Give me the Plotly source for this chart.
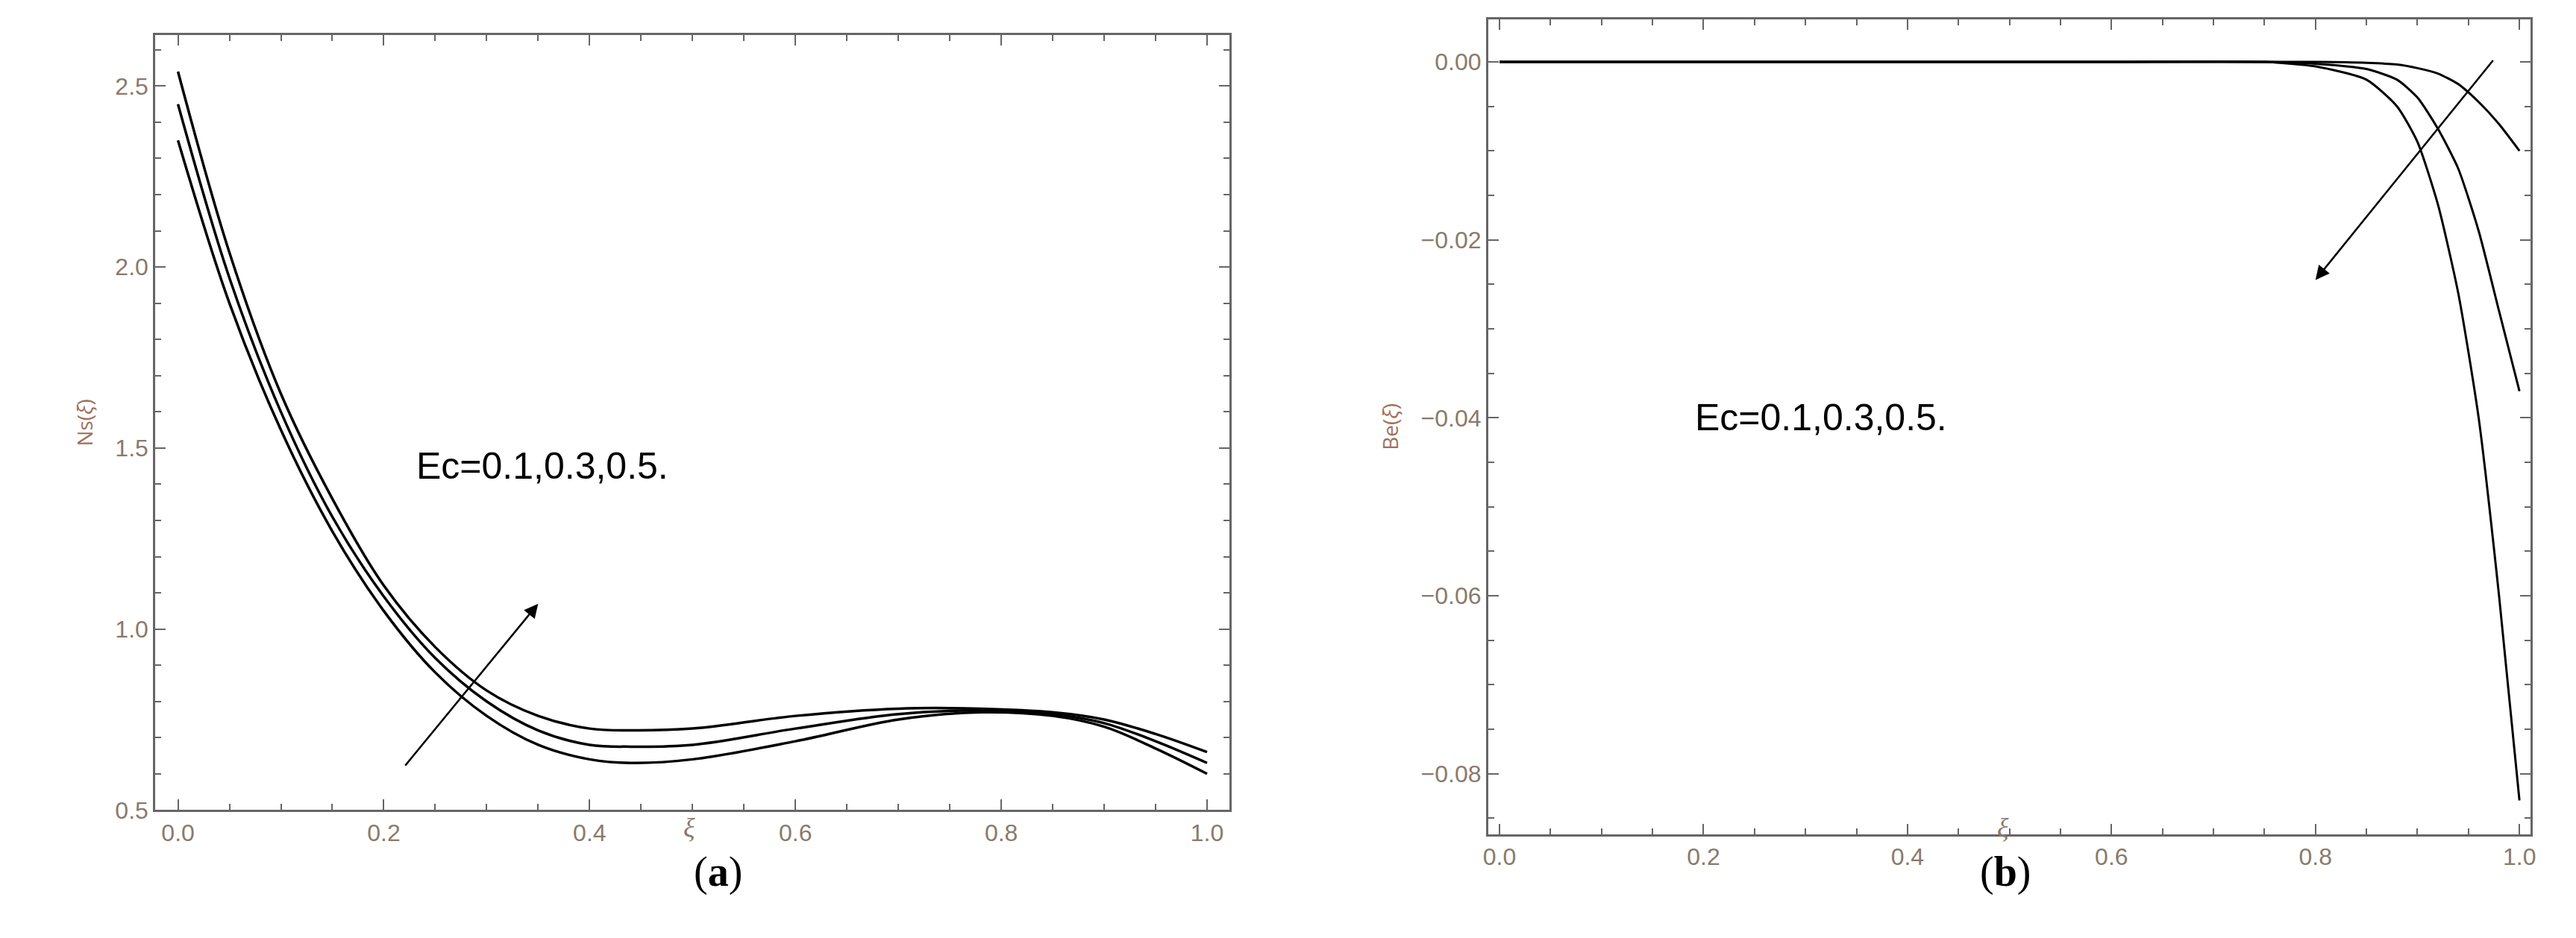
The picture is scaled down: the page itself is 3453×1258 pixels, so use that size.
import plotly.graph_objects as go
from plotly.subplots import make_subplots

xa = [0.0, 0.05, 0.1, 0.15, 0.2, 0.25, 0.3, 0.35, 0.4, 0.44, 0.5, 0.6, 0.7, 0.78, 0.85, 0.9, 0.95, 1.0]
ns1 = [2.35, 1.90, 1.55, 1.27, 1.05, 0.88, 0.76, 0.68, 0.64, 0.63, 0.64, 0.69, 0.75, 0.77, 0.76, 0.73, 0.67, 0.60]
ns2 = [2.45, 1.97, 1.60, 1.31, 1.09, 0.92, 0.80, 0.72, 0.68, 0.675, 0.68, 0.725, 0.765, 0.775, 0.765, 0.74, 0.69, 0.63]
ns3 = [2.54, 2.04, 1.65, 1.36, 1.12, 0.95, 0.83, 0.76, 0.725, 0.72, 0.725, 0.76, 0.78, 0.78, 0.77, 0.75, 0.71, 0.66]

xb = [0.0, 0.2, 0.4, 0.6, 0.75, 0.8, 0.85, 0.88, 0.9, 0.92, 0.94, 0.96, 0.98, 1.0]
be1 = [0, 0, 0, 0, 0, 0, -0.0001, -0.0003, -0.0007, -0.0013, -0.0025, -0.0045, -0.0070, -0.0100]
be2 = [0, 0, 0, 0, 0, -0.0002, -0.0008, -0.0020, -0.0040, -0.0075, -0.0120, -0.0190, -0.0280, -0.0370]
be3 = [0, 0, 0, 0, 0, -0.0005, -0.0020, -0.0050, -0.0090, -0.0160, -0.0260, -0.0400, -0.0600, -0.0830]

fig = make_subplots(rows=1, cols=2)
for y in (ns1, ns2, ns3):
    fig.add_trace(go.Scatter(x=xa, y=y, mode="lines", line=dict(color="black", width=3.5, shape="spline"), showlegend=False), 1, 1)
for y in (be1, be2, be3):
    fig.add_trace(go.Scatter(x=xb, y=y, mode="lines", line=dict(color="black", width=3, shape="spline", smoothing=0.6), showlegend=False), 1, 2)

W, H = 3453, 1258
def px(x0, x1): return [x0 / W, x1 / W]
def py(y0, y1): return [1 - y1 / H, 1 - y0 / H]

tick = dict(ticks="inside", ticklen=14, tickwidth=2, tickcolor="#666", showline=True, mirror="ticks",
            linecolor="#666", linewidth=3, showgrid=False, zeroline=False,
            tickfont=dict(family="Liberation Sans", size=32, color="#8a7a6a"))
fig.update_xaxes(**tick, domain=px(194, 1640), range=[-0.022, 1.022], tickvals=[0, .2, .4, .6, .8, 1.0],
                 ticktext=["0.0", "0.2", "0.4", "0.6", "0.8", "1.0"], minor=dict(ticks="inside", ticklen=8, dtick=0.05, tickcolor="#666"),
                 row=1, col=1)
fig.update_yaxes(**tick, domain=py(40, 1094), range=[0.5, 2.64], tickvals=[0.5, 1.0, 1.5, 2.0, 2.5],
                 ticktext=["0.5", "1.0", "1.5", "2.0", "2.5"], minor=dict(ticks="inside", ticklen=8, dtick=0.1, tickcolor="#666"),
                 title=dict(text="Ns(<i>ξ</i>)", font=dict(size=28, color="#a0705a"), standoff=22), row=1, col=1)
fig.update_xaxes(**tick, domain=px(1988, 3391), range=[-0.011, 1.011], tickvals=[0, .2, .4, .6, .8, 1.0],
                 ticktext=["0.0", "0.2", "0.4", "0.6", "0.8", "1.0"], minor=dict(ticks="inside", ticklen=8, dtick=0.05, tickcolor="#666"),
                 row=1, col=2)
fig.update_yaxes(**tick, domain=py(18, 1127), range=[-0.0868, 0.0048], tickvals=[0, -0.02, -0.04, -0.06, -0.08],
                 ticktext=["0.00", "−0.02", "−0.04", "−0.06", "−0.08"], minor=dict(ticks="inside", ticklen=8, dtick=0.005, tickcolor="#666"),
                 title=dict(text="Be(<i>ξ</i>)", font=dict(size=28, color="#a0705a"), standoff=22), row=1, col=2)

for xc in (903, 2691):
    fig.add_annotation(x=xc / W, y=1 - 1140 / H, xref="paper", yref="paper", text="<i>ξ</i>", showarrow=False,
                       font=dict(family="Liberation Serif", size=36, color="#8a7a6a"))

fig.add_annotation(x=0.23, y=1.45, xref="x", yref="y", text="Ec=0.1,0.3,0.5.", showarrow=False, xanchor="left",
                   font=dict(family="Liberation Sans", size=50, color="black"))
fig.add_annotation(x=0.19, y=-0.04, xref="x2", yref="y2", text="Ec=0.1,0.3,0.5.", showarrow=False, xanchor="left",
                   font=dict(family="Liberation Sans", size=50, color="black"))
fig.add_annotation(x=0.35, y=1.07, ax=0.22, ay=0.62, xref="x", yref="y", axref="x", ayref="y", text="",
                   showarrow=True, arrowhead=2, arrowsize=1.5, arrowwidth=2.5, arrowcolor="black")
fig.add_annotation(x=0.80, y=-0.0245, ax=0.975, ay=0.0003, xref="x2", yref="y2", axref="x2", ayref="y2", text="",
                   showarrow=True, arrowhead=2, arrowsize=1.5, arrowwidth=2.5, arrowcolor="black")
for xc, lab in ((917, "a"), (2720, "b")):
    fig.add_annotation(x=xc / W, y=1 - 1212 / H, xref="paper", yref="paper", text=f"(<b>{lab}</b>)", showarrow=False,
                       font=dict(family="Liberation Serif", size=56, color="black"))

fig.update_layout(width=W, height=H, margin=dict(l=0, r=0, t=0, b=0), plot_bgcolor="white", paper_bgcolor="white")
fig.write_html("out.html")
